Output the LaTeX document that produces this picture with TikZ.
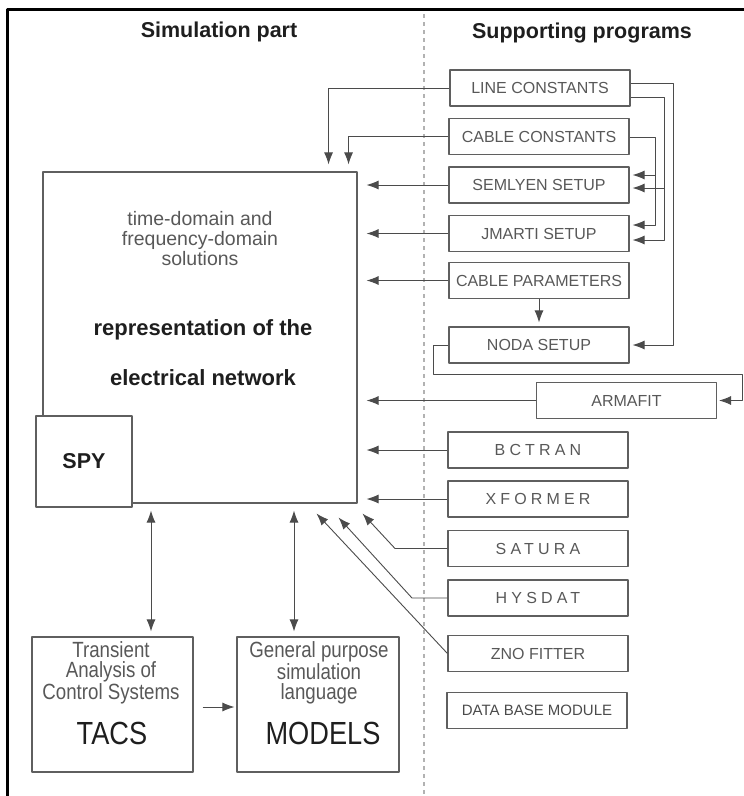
\documentclass[tikz,border=0pt]{standalone}
\usepackage{fontspec}
\setmainfont{Liberation Sans}
\newfontfamily\narrowfont[FakeStretch=0.85]{Liberation Sans}
\newfontfamily\trackedfont[LetterSpace=26]{Liberation Sans}
\usetikzlibrary{arrows.meta}
\definecolor{boxline}{RGB}{95,95,95}
\definecolor{wire}{RGB}{75,75,75}
\definecolor{greytext}{RGB}{88,88,88}
\definecolor{darktext}{RGB}{30,30,30}
\tikzset{block/.style={draw=boxline,line width=1.1pt,inner sep=0pt},
 prog/.style={block,minimum width=180pt,minimum height=36pt,text=greytext,font=\fontsize{16}{18}\selectfont},
 spaced/.style={prog,font=\trackedfont\fontsize{16}{18}\selectfont},
 title/.style={text=darktext,font=\bfseries\fontsize{21.5}{24}\selectfont},
 conn/.style={draw=wire,line width=.9pt,-{Latex[length=12pt,width=9pt]}},
 both/.style={conn,{Latex[length=12pt,width=9pt]}-{Latex[length=12pt,width=9pt]}},
 divider/.style={draw=gray!60,line width=1.2pt,dash pattern=on 4pt off 4pt},
 every picture/.style={line join=round}}
\begin{document}
\begin{tikzpicture}[x=1pt,y=-1pt]
\useasboundingbox (0,0) rectangle (744,796);
\draw[line width=3pt] (7,796) -- (7,9) -- (744,9);
\draw[divider] (424,14) -- (424,796);
\node[title,anchor=base] (simtitle) at (219,37) {Simulation part};
\node[title,anchor=base] (suptitle) at (582,38) {Supporting programs};
\node[block,minimum width=314pt,minimum height=331pt] (network) at (200,337.5) {};
\node[text=greytext,align=center,font=\fontsize{19.5}{20}\selectfont] (solutions) at (200,239) {time-domain and\\frequency-domain\\solutions};
\node[text=darktext,anchor=base,font=\bfseries\fontsize{22}{26}\selectfont] (repr) at (203,335) {representation of the};
\node[text=darktext,anchor=base,font=\bfseries\fontsize{22}{26}\selectfont] (elnet) at (203,385) {electrical network};
\node[block,fill=white,minimum width=96pt,minimum height=91pt,text=darktext,font=\bfseries\fontsize{21.5}{24}\selectfont] (spy) at (84,461.5) {SPY};
\node[block,minimum width=161pt,minimum height=135pt] (tacs) at (112.5,704.5) {};
\node[text=greytext,align=center,font=\narrowfont\fontsize{22}{20}\selectfont] (tacsnote) at (111,673) {Transient\\Analysis of\\Control Systems};
\node[text=darktext,font=\narrowfont\fontsize{32}{36}\selectfont] (tacsname) at (112,733) {TACS};
\node[block,minimum width=162pt,minimum height=135pt] (models) at (318,704.5) {};
\node[text=greytext,align=center,font=\narrowfont\fontsize{22}{20}\selectfont] (modelsnote) at (319,673) {General purpose\\simulation\\language};
\node[text=darktext,font=\narrowfont\fontsize{32}{36}\selectfont] (modelsname) at (323,733) {MODELS};
\node[prog] (linec) at (540,88) {LINE CONSTANTS};
\node[prog] (cablec) at (539,136.5) {CABLE CONSTANTS};
\node[prog] (semlyen) at (539,185) {SEMLYEN SETUP};
\node[prog] (jmarti) at (539,233.5) {JMARTI SETUP};
\node[prog] (cablep) at (539,280.5) {CABLE PARAMETERS};
\node[prog] (noda) at (539,345) {NODA SETUP};
\node[prog] (armafit) at (626.5,400.5) {ARMAFIT};
\node[spaced] (bctran) at (538,450) {BCTRAN};
\node[spaced] (xformer) at (538,499) {XFORMER};
\node[spaced] (satura) at (538,548.5) {SATURA};
\node[spaced] (hysdat) at (538,598) {HYSDAT};
\node[prog] (znofit) at (538,653.5) {ZNO FITTER};
\node[prog,text=darktext!80,font=\fontsize{15}{18}\selectfont] (database) at (537,710.5) {DATA BASE MODULE};
\draw[conn,shorten >=7pt] (linec.west) -| ([xshift=-29pt]network.north east);
\draw[conn,shorten >=7pt] (cablec.west) -| ([xshift=-9pt]network.north east);
\draw[conn,shorten >=9pt] (semlyen.west) -- (semlyen.west -| network.east);
\draw[conn,shorten >=9pt] (jmarti.west) -- (jmarti.west -| network.east);
\draw[conn,shorten >=9pt] (cablep.west) -- (cablep.west -| network.east);
\draw[conn,shorten >=9pt] (armafit.west) -- (armafit.west -| network.east);
\draw[conn,shorten >=9pt] (bctran.west) -- (bctran.west -| network.east);
\draw[conn,shorten >=9pt] (xformer.west) -- (xformer.west -| network.east);
\draw[conn,shorten >=3pt] (linec.east |- 0,83) -| (673,345) -- (noda.east);
\draw[conn,shorten >=3pt] (linec.east |- 0,97) -| (664,240) -- (jmarti.east |- 0,240);
\draw[conn,shorten >=3pt] (664,188) -- (semlyen.east |- 0,188);
\draw[conn,shorten >=3pt] (cablec.east |- 0,137) -| (655,225) -- (jmarti.east |- 0,225);
\draw[conn,shorten >=3pt] (655,175) -- (semlyen.east |- 0,175);
\draw[conn,shorten >=4pt] (cablep.south) -- (noda.north);
\draw[conn,shorten >=2pt] (noda.west) -| (433,374) -| (742,400.5) -- (armafit.east);
\draw[conn] (satura.west) -- (395,548.5) -- ([xshift=5pt,yshift=-10pt]network.south east);
\draw[conn] (hysdat.west) -- (412,598) -- ([xshift=-19pt,yshift=-14pt]network.south east);
\draw[conn] (znofit.west) -- ([xshift=-41pt,yshift=-10pt]network.south east);
\draw[both,shorten <=7pt,shorten >=5pt] (network.south -| 151,0) -- (tacs.north -| 151,0);
\draw[both,shorten <=7pt,shorten >=5pt] (network.south -| 294,0) -- (models.north -| 294,0);
\draw[conn,shorten <=9pt,shorten >=2pt] (tacs.east |- 0,707) -- (models.west |- 0,707);
\end{tikzpicture}
\end{document}
